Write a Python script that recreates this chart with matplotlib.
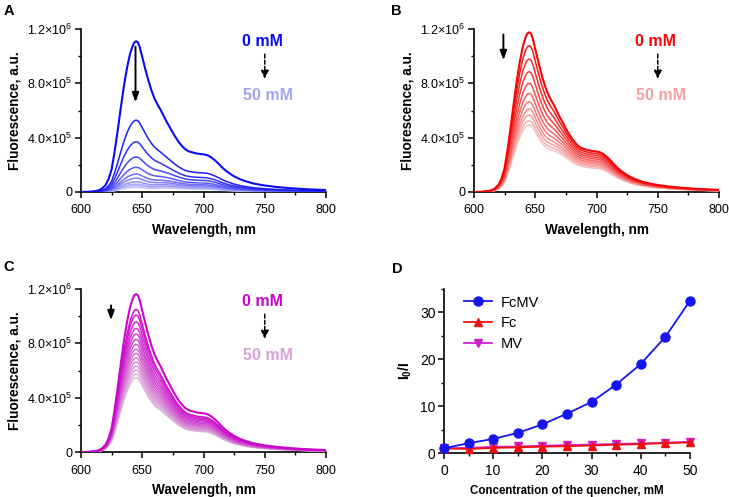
import numpy as np
import matplotlib
matplotlib.use("Agg")
import matplotlib.pyplot as plt
from matplotlib.colors import to_rgb
from matplotlib.ticker import MultipleLocator, FixedLocator, FixedFormatter

plt.rcParams['font.family'] = ['Liberation Sans', 'DejaVu Sans']
plt.rcParams['mathtext.fontset'] = 'custom'
plt.rcParams['mathtext.rm'] = 'Liberation Sans'
plt.rcParams['mathtext.bf'] = 'Liberation Sans:bold'
plt.rcParams['mathtext.it'] = 'Liberation Sans:italic'

# ---------------- data ----------------
wavelength = [600, 605, 610, 614, 617, 620, 622.5, 625, 627.5, 630, 632.5, 635, 637.5, 640, 642,
              643.5, 645, 646.5, 648, 650, 652.5, 655, 657.5, 660, 662.5, 665, 667.5, 670, 672.5,
              675, 677.5, 680, 682.5, 685, 687.5, 690, 695, 700, 703, 706, 709, 712, 715, 718, 721,
              725, 730, 735, 740, 745, 750, 760, 770, 780, 790, 800]
# normalised emission profile (peak = 1, shoulder at 700 nm = 0.25)
profile = [0.000, 0.001, 0.004, 0.010, 0.022, 0.045, 0.085, 0.150, 0.270, 0.410, 0.560, 0.700,
           0.820, 0.915, 0.965, 0.992, 1.000, 0.992, 0.960, 0.895, 0.815, 0.740, 0.675, 0.620,
           0.580, 0.545, 0.505, 0.465, 0.430, 0.393, 0.360, 0.330, 0.305, 0.285, 0.272, 0.265,
           0.255, 0.250, 0.245, 0.232, 0.213, 0.190, 0.165, 0.143, 0.125, 0.104, 0.084, 0.070,
           0.058, 0.050, 0.043, 0.033, 0.026, 0.020, 0.016, 0.013]
# weight of the vibronic-shoulder region in each point
shoulder_weight = [0]*22 + [0.05, 0.12, 0.22, 0.33, 0.45, 0.56, 0.66, 0.75, 0.83, 0.89, 0.94,
                            0.97, 0.99] + [1]*21
profile_700 = 0.25

# panel A (FcMV) peak (645 nm) and shoulder (700 nm) intensities
A_peaks = [1.11e6, 5.29e5, 3.70e5, 2.58e5, 1.82e5, 1.32e5, 1.02e5, 7.6e4, 5.8e4, 4.5e4, 3.4e4]
A_shoulders = [2.77e5, 1.40e5, 1.06e5, 8.5e4, 6.6e4, 5.3e4, 4.4e4, 3.6e4, 3.0e4, 2.5e4, 2.0e4]
# panel B (Fc)
B_peaks = [1.176e6, 1.077e6, 0.979e6, 0.886e6, 0.800e6, 0.726e6, 0.665e6, 0.611e6, 0.567e6,
           0.525e6, 0.493e6]
B_shoulders = [2.98e5, 2.83e5, 2.69e5, 2.55e5, 2.42e5, 2.29e5, 2.17e5, 2.05e5, 1.94e5,
               1.84e5, 1.74e5]
# panel C (MV)
C_peaks = [1.163e6, 1.051e6, 1.009e6, 0.959e6, 0.911e6, 0.869e6, 0.830e6, 0.793e6, 0.758e6,
           0.727e6, 0.694e6, 0.663e6, 0.633e6, 0.604e6, 0.574e6, 0.547e6]
C_shoulders = [2.85e5, 2.58e5, 2.48e5, 2.38e5, 2.28e5, 2.19e5, 2.10e5, 2.02e5, 1.94e5,
               1.87e5, 1.80e5, 1.73e5, 1.67e5, 1.61e5, 1.55e5, 1.50e5]

# panel D: Stern-Volmer
conc = [0, 5, 10, 15, 20, 25, 30, 35, 40, 45, 50]
FcMV = [1.0, 2.1, 3.0, 4.3, 6.1, 8.4, 10.9, 14.6, 19.0, 24.8, 32.5]
Fc = [1.0, 0.85, 1.1, 1.2, 1.35, 1.45, 1.6, 1.75, 1.9, 2.1, 2.25]
MV = [1.0, 1.1, 1.3, 1.4, 1.55, 1.7, 1.8, 1.95, 2.05, 2.2, 2.4]

y_ticks = [0, 4e5, 8e5, 1.2e6]
y_ticklabels = ['0', r'$4.0{\times}10^5$', r'$8.0{\times}10^5$', r'$1.2{\times}10^6$']

# ---------------- drawing ----------------
fig = plt.figure(figsize=(7.29, 4.97), dpi=100)

wl = np.array(wavelength)
S = np.array(profile)
W = np.array(shoulder_weight)


def spectra_axes(rect, peaks, shoulders, c_dark, c_light, c_text50, arrow_solid, letter, lpos):
    ax = fig.add_axes(rect)
    n = len(peaks)
    dark = np.array(to_rgb(c_dark))
    light = np.array(to_rgb(c_light))
    for i in reversed(range(n)):
        P, Q = peaks[i], shoulders[i]
        y = P * S * (1 - W) + Q * (S / profile_700) * W
        f = i / (n - 1)
        col = dark * (1 - f) + light * f
        ax.plot(wl, y, color=col, lw=1.5 if i == 0 else 1.1, zorder=3 + n - i)
    ax.set_xlim(600, 800)
    ax.set_ylim(0, 1.2e6)
    ax.xaxis.set_major_locator(MultipleLocator(50))
    ax.xaxis.set_minor_locator(MultipleLocator(25))
    ax.yaxis.set_major_locator(FixedLocator(y_ticks))
    ax.yaxis.set_major_formatter(FixedFormatter(y_ticklabels))
    ax.yaxis.set_minor_locator(MultipleLocator(2e5))
    for s in ['top', 'right']:
        ax.spines[s].set_visible(False)
    for s in ['left', 'bottom']:
        ax.spines[s].set_linewidth(1.2)
    ax.tick_params(which='major', length=4, width=1.1, labelsize=9)
    ax.tick_params(axis='x', which='major', pad=5)
    ax.tick_params(axis='y', which='major', pad=2)
    ax.tick_params(which='minor', length=2.5, width=1.0)
    ax.set_xlabel('Wavelength, nm', fontsize=9.8, fontweight='bold', labelpad=5)
    ax.set_ylabel('Fluorescence, a.u.', fontsize=9.8, fontweight='bold', labelpad=4)
    ax.text(748.5, 1.107e6, '0 mM', color=c_dark, fontsize=11.5, fontweight='bold',
            ha='center', va='center')
    ax.text(752.5, 7.09e5, '50 mM', color=c_text50, fontsize=11.5, fontweight='bold',
            ha='center', va='center')
    ax.annotate('', xy=(750, 8.1e5), xytext=(750, 1.035e6),
                arrowprops=dict(arrowstyle='-|>,head_length=0.5,head_width=0.22',
                                color='black', lw=1.1, ls=(0, (2.5, 1.5))))
    (x0, y0), (x1, y1) = arrow_solid
    ax.annotate('', xy=(x1, y1), xytext=(x0, y0),
                arrowprops=dict(arrowstyle='-|>,head_length=0.55,head_width=0.2',
                                color='black', lw=1.4), zorder=20)
    fig.text(lpos[0], lpos[1], letter, fontsize=10.5, fontweight='bold',
             ha='left', va='center')
    return ax


spectra_axes([0.1111, 0.6137, 0.3361, 0.3279], A_peaks, A_shoulders,
             '#0a0af5', '#cfcff7', '#a3a3f3', ((644.5, 1.09e6), (644.5, 6.4e5)), 'A',
             (0.005, 0.978))
spectra_axes([0.6502, 0.6137, 0.3361, 0.3279], B_peaks, B_shoulders,
             '#f50505', '#f7c4c4', '#f5a0a0', ((624, 1.18e6), (624, 9.5e5)), 'B',
             (0.537, 0.978))
spectra_axes([0.1111, 0.0905, 0.3361, 0.3279], C_peaks, C_shoulders,
             '#cc05cc', '#dcb8dc', '#d8a2d8', ((624.5, 1.10e6), (624.5, 9.5e5)), 'C',
             (0.005, 0.462))

# panel D
axd = fig.add_axes([0.609, 0.0885, 0.3375, 0.33])
axd.plot(conc, MV, color='#d020d0', marker='v', ms=6, lw=1.3, clip_on=False, zorder=4,
         label='MV')
axd.plot(conc, Fc, color='#f01010', marker='^', ms=6, lw=1.3, clip_on=False, zorder=5,
         label='Fc')
axd.plot(conc, FcMV, color='#1515f0', marker='o', ms=6.5, lw=1.3, clip_on=False, zorder=6,
         label='FcMV')
axd.set_xlim(0, 50)
axd.set_ylim(0, 35)
axd.xaxis.set_major_locator(MultipleLocator(10))
axd.xaxis.set_minor_locator(MultipleLocator(5))
axd.yaxis.set_major_locator(FixedLocator([0, 10, 20, 30]))
axd.yaxis.set_minor_locator(MultipleLocator(5))
for s in ['top', 'right']:
    axd.spines[s].set_visible(False)
for s in ['left', 'bottom']:
    axd.spines[s].set_linewidth(1.2)
axd.tick_params(which='major', length=4, width=1.1, labelsize=10)
axd.tick_params(axis='x', which='major', pad=4)
axd.tick_params(axis='y', which='major', pad=2)
axd.tick_params(which='minor', length=2.5, width=1.0)
axd.set_xlabel('Concentration of the quencher, mM', fontsize=8.3, fontweight='bold',
               labelpad=5)
axd.set_ylabel(r'$\mathbf{I_0/I}$', fontsize=10, labelpad=4)
h, l = axd.get_legend_handles_labels()
axd.legend(h[::-1], l[::-1], loc='upper left', bbox_to_anchor=(0.03, 1.04), frameon=False,
           fontsize=10.5, handlelength=1.9, labelspacing=0.45, handletextpad=0.6)
fig.text(0.538, 0.4585, 'D', fontsize=10.5, fontweight='bold', ha='left', va='center')

fig.savefig('out.png', dpi=100)
